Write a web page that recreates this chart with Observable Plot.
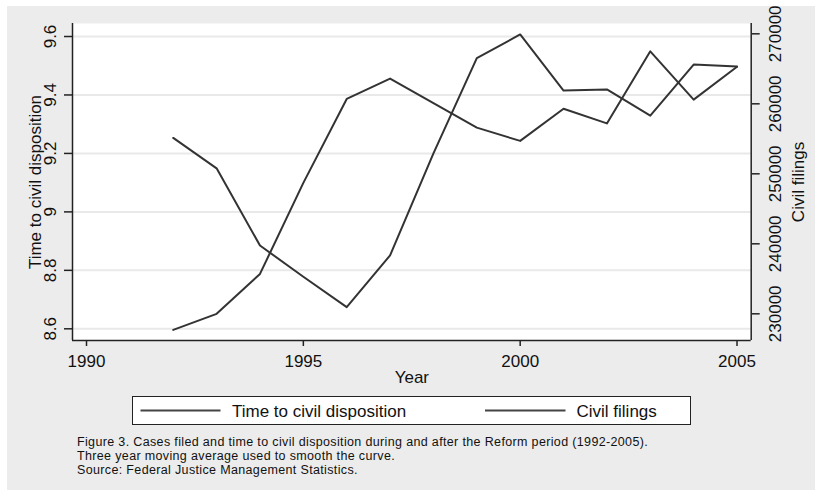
<!DOCTYPE html>
<html>
<head>
<meta charset="utf-8">
<script src="https://cdn.jsdelivr.net/npm/d3@7"></script>
<script src="https://cdn.jsdelivr.net/npm/@observablehq/plot@0.6"></script>
<style>
  html, body { margin: 0; padding: 0; background: #ffffff; }
  #panel { position: absolute; left: 7px; top: 6px; width: 808px; height: 484px; background: #ececec;
           font-family: "Liberation Sans", Arial, Helvetica, sans-serif; color: #111; }
  #chart { position: absolute; left: 0; top: 0; }
  #chart svg { overflow: visible; }
  #legend { position: absolute; left: 125px; top: 390px; width: 557px; height: 27px; background: #fff; border: 1.5px solid #222; }
  #legend svg { position: absolute; left: 0; top: 0; overflow: visible; }
  #caption { position: absolute; left: 70px; top: 429px; font-size: 12.5px; line-height: 14px; letter-spacing: 0.35px; color: #111; white-space: nowrap; }
</style>
</head>
<body>
<div id="panel">
  <div id="chart"></div>
  <div id="legend"></div>
  <div id="caption"></div>
</div>
<script>
// ---- data ----
const years = [1992, 1993, 1994, 1995, 1996, 1997, 1998, 1999, 2000, 2001, 2002, 2003, 2004, 2005];
const timeToDisposition = [9.253, 9.149, 8.885, 8.778, 8.674, 8.851, 9.200, 9.526, 9.607, 9.415, 9.419, 9.329, 9.504, 9.497];
const civilFilings = [227700, 230000, 235700, 248700, 260700, 263600, 260100, 256600, 254700, 259300, 257200, 267500, 260600, 265300];
const leftTicks = [8.6, 8.8, 9, 9.2, 9.4, 9.6];
const rightTicks = [230000, 240000, 250000, 260000, 270000];
const xTicks = [1990, 1995, 2000, 2005];
const seriesNames = ["Time to civil disposition", "Civil filings"];
const axisTitles = { x: "Year", left: "Time to civil disposition", right: "Civil filings" };
const captionLines = [
  "Figure 3. Cases filed and time to civil disposition during and after the Reform period (1992-2005).",
  "Three year moving average used to smooth the curve.",
  "Source: Federal Justice Management Statistics."
];

// ---- scales ----
const xDomain = [1989.677, 2005.327];
const yDomain = [8.56, 9.6445];
// map right-axis (civil filings) values into the left-axis coordinate space
const toLeft = d3.scaleLinear().domain([230000, 270000]).range([8.6513, 9.6092]);

const rows = years.map((year, i) => ({ year, time: timeToDisposition[i], filings: civilFilings[i] }));

const FONT = "'Liberation Sans', Arial, Helvetica, sans-serif";
const lineColor = "#333333";
const axisColor = "#222222";

const chart = Plot.plot({
  width: 808,
  height: 380,
  marginLeft: 65,
  marginRight: 64.3,
  marginTop: 17,
  marginBottom: 46,
  style: { background: "transparent", fontFamily: FONT, fontSize: "17px", color: "#111", overflow: "visible" },
  x: { domain: xDomain },
  y: { domain: yDomain },
  marks: [
    Plot.frame({ fill: "white", stroke: "none" }),
    Plot.ruleY(leftTicks, { stroke: "#e9e9e9", strokeWidth: 2 }),
    Plot.line(rows, { x: "year", y: "time", stroke: lineColor, strokeWidth: 2 }),
    Plot.line(rows, { x: "year", y: d => toLeft(d.filings), stroke: lineColor, strokeWidth: 2 }),
    Plot.ruleX(xDomain, { stroke: axisColor, strokeWidth: 1.5 }),
    Plot.ruleY([yDomain[0]], { stroke: axisColor, strokeWidth: 1.5 }),
    Plot.axisX({ ticks: xTicks, tickSize: 6, tickPadding: 8, tickFormat: d => String(d), label: null,
                 fontSize: 17, stroke: axisColor, strokeWidth: 1.5, color: "#111" }),
    Plot.axisY({ anchor: "left", ticks: leftTicks, tickSize: 8, tickPadding: 13.7, tickRotate: -90,
                 textAnchor: "middle", lineAnchor: "middle", tickFormat: d => String(d), label: null,
                 fontSize: 17, stroke: axisColor, strokeWidth: 1.5 }),
    Plot.axisY({ anchor: "right", ticks: rightTicks.map(v => toLeft(v)), tickSize: 8, tickPadding: 16.3, tickRotate: -90,
                 textAnchor: "middle", lineAnchor: "middle",
                 tickFormat: d => String(Math.round(toLeft.invert(d) / 1000) * 1000), label: null,
                 fontSize: 17, stroke: axisColor, strokeWidth: 1.5 }),
    Plot.text([axisTitles.x], { frameAnchor: "bottom", dy: 36.7, lineAnchor: "middle", fontSize: 17, fill: "#111" }),
    Plot.text([axisTitles.left], { frameAnchor: "left", dx: -37, rotate: -90, textAnchor: "middle", lineAnchor: "middle", fontSize: 17, fill: "#111" }),
    Plot.text([axisTitles.right], { frameAnchor: "right", dx: 47.8, rotate: -90, textAnchor: "middle", lineAnchor: "middle", fontSize: 17, fill: "#111" })
  ]
});
document.getElementById("chart").appendChild(chart);

// ---- legend ----
const legendPos = [{ x1: 7.5, x2: 87.5, tx: 99 }, { x1: 352, x2: 432.5, tx: 443.5 }];
const lsvg = d3.select("#legend").append("svg").attr("width", 557).attr("height", 27);
seriesNames.forEach((name, i) => {
  const p = legendPos[i];
  lsvg.append("line").attr("x1", p.x1).attr("x2", p.x2).attr("y1", 13.5).attr("y2", 13.5)
    .attr("stroke", "#444").attr("stroke-width", 2);
  lsvg.append("text").attr("x", p.tx).attr("y", 19.8).attr("font-size", 17)
    .attr("font-family", FONT).attr("fill", "#111").text(name);
});

// ---- caption ----
const cap = d3.select("#caption");
captionLines.forEach(t => cap.append("div").text(t));
</script>
</body>
</html>
